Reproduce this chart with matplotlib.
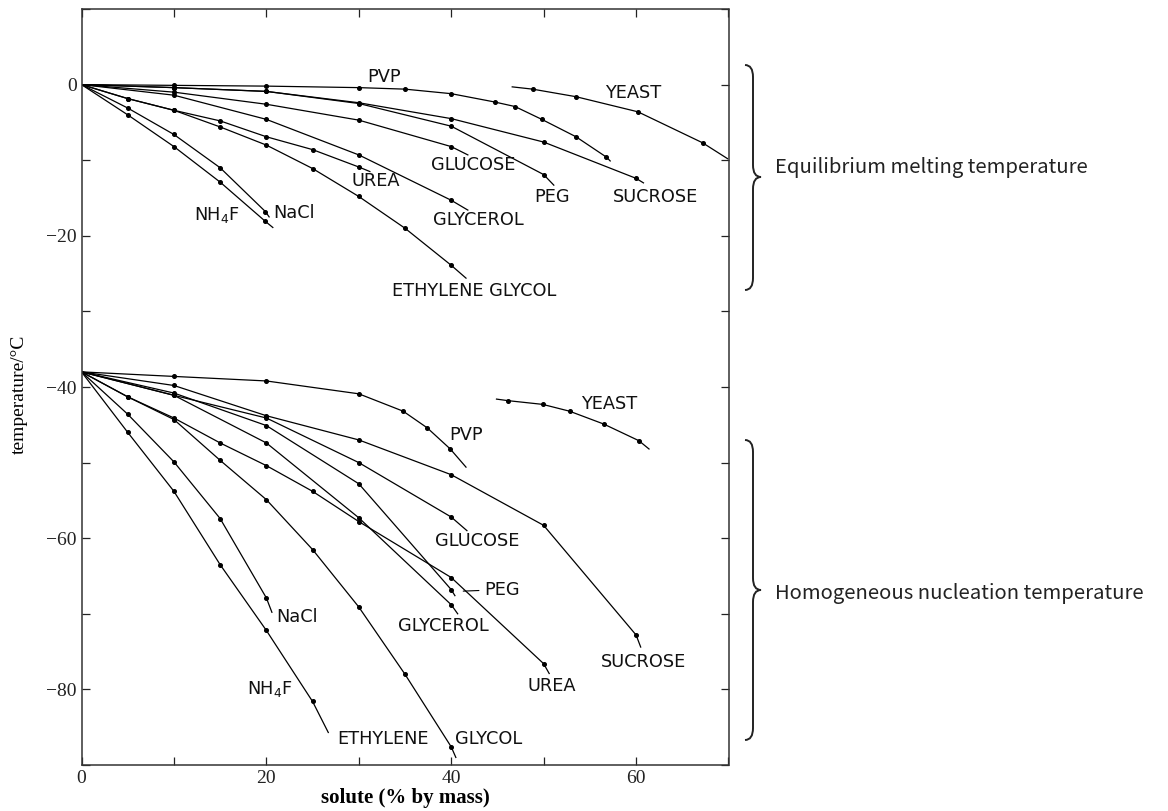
import matplotlib
matplotlib.use('agg')
import matplotlib.pyplot as plt
from matplotlib.path import Path
from matplotlib.patches import PathPatch
from matplotlib.ticker import MultipleLocator, FuncFormatter

# equilibrium melting temperature: (solute %, temperature degC)
melt_pvp = [(0, 0), (10, -0.1), (20, -0.2), (30, -0.4), (35, -0.6), (40, -1.2), (44.7, -2.3),
            (46.9, -2.9), (49.8, -4.6), (53.5, -6.9), (56.8, -9.6), (57.2, -10.1)]
melt_yeast = [(46.6, -0.3), (48.8, -0.6), (53.5, -1.6), (60.2, -3.6), (67.2, -7.7), (69.9, -9.8)]
melt_peg = [(0, 0), (10, -0.4), (20, -0.9), (30, -2.5), (40, -5.5), (50, -11.9), (51.1, -13.3)]
melt_sucrose = [(0, 0), (10, -0.4), (20, -0.9), (30, -2.4), (40, -4.5), (50, -7.6), (60, -12.4), (60.8, -13.0)]
melt_glucose = [(0, 0), (10, -1.0), (20, -2.6), (30, -4.7), (40, -8.2), (41.8, -9.3)]
melt_glycerol = [(0, 0), (10, -1.4), (20, -4.6), (30, -9.3), (40, -15.3), (41.8, -16.6)]
melt_urea = [(0, 0), (5, -1.85), (10, -3.4), (15, -4.8), (20, -6.9), (25, -8.6), (30, -10.9), (31.2, -11.5)]
melt_eg = [(0, 0), (5, -1.85), (10, -3.4), (15, -5.6), (20, -8.0), (25, -11.1), (30, -14.8),
           (35, -19.0), (40, -23.9), (41.6, -25.6)]
melt_nacl = [(0, 0), (5, -3.1), (10, -6.6), (15, -11.0), (19.9, -16.8), (20.3, -17.5)]
melt_nh4f = [(0, 0), (5, -4.0), (10, -8.2), (15, -12.9), (19.9, -18.1), (20.7, -18.9)]

# homogeneous nucleation temperature
nucl_pvp = [(0, -38), (10, -38.6), (20, -39.2), (30, -40.9), (34.8, -43.2), (37.4, -45.4),
            (39.9, -48.2), (41.6, -50.6)]
nucl_yeast = [(44.9, -41.6), (46.1, -41.8), (49.9, -42.3), (52.8, -43.2), (56.5, -44.9),
              (60.3, -47.1), (61.4, -48.2)]
nucl_sucrose = [(0, -38), (10, -39.8), (20, -43.8), (30, -47.0), (40, -51.6), (50, -58.3),
                (60, -72.8), (60.5, -74.4)]
nucl_glucose = [(0, -38), (10, -41.1), (20, -44.1), (30, -50.0), (40, -57.2), (41.7, -59.0)]
nucl_peg = [(0, -38), (10, -40.8), (20, -45.1), (30, -52.8), (40, -66.8), (40.4, -67.6)]
nucl_glycerol = [(0, -38), (10, -41.1), (20, -47.4), (30, -57.3), (40, -68.8), (40.7, -70.0)]
nucl_urea = [(0, -38), (5, -41.3), (10, -44.1), (15, -47.4), (20, -50.4), (25, -53.8), (30, -57.8),
             (40, -65.2), (50, -76.6), (50.6, -77.9)]
nucl_eg = [(0, -38), (5, -41.3), (10, -44.3), (15, -49.7), (20, -54.9), (25, -61.5), (30, -69.1),
           (35, -78.0), (40, -87.6), (40.5, -89.0)]
nucl_nacl = [(0, -38), (5, -43.6), (10, -49.9), (15, -57.4), (20, -67.9), (20.6, -69.8)]
nucl_nh4f = [(0, -38), (5, -46.0), (10, -53.8), (15, -63.5), (20, -72.2), (25, -81.6), (26.7, -85.7)]

curves = [melt_pvp, melt_yeast, melt_peg, melt_sucrose, melt_glucose, melt_glycerol, melt_urea,
          melt_eg, melt_nacl, melt_nh4f, nucl_pvp, nucl_yeast, nucl_sucrose, nucl_glucose, nucl_peg,
          nucl_glycerol, nucl_urea, nucl_eg, nucl_nacl, nucl_nh4f]

W, H = 1168, 811
fig = plt.figure(figsize=(W / 100, H / 100), dpi=100)
ax = fig.add_axes([81.5 / W, 1 - 765 / H, 647 / W, 756 / H])

for c in curves:
    xs = [p[0] for p in c]
    ys = [p[1] for p in c]
    ax.plot(xs, ys, color='black', lw=0.9)
    # точки только на промежуточных значениях (начало и конец кривой без точки)
    ax.plot(xs[1:-1], ys[1:-1], 'o', color='black', ms=2.6)

lab = dict(fontsize=12.8, family='DejaVu Sans', ha='center', va='center', color='#111111')
# подписи верхней группы
ax.text(32.7, 1.0, 'PVP', **lab)
ax.text(59.7, -1.1, 'YEAST', **lab)
ax.text(42.4, -10.6, 'GLUCOSE', **lab)
ax.text(50.9, -14.9, 'PEG', **lab)
ax.text(62.1, -14.9, 'SUCROSE', **lab)
ax.text(31.8, -12.8, 'UREA', **lab)
ax.text(42.9, -17.9, 'GLYCEROL', **lab)
ax.text(42.5, -27.3, 'ETHYLENE GLYCOL', **lab)
ax.text(14.6, -17.2, 'NH$_4$F', **lab)
ax.text(23.0, -17.0, 'NaCl', **lab)
# подписи нижней группы
ax.text(41.6, -46.3, 'PVP', **lab)
ax.text(57.1, -42.3, 'YEAST', **lab)
ax.text(42.8, -60.4, 'GLUCOSE', **lab)
ax.annotate('PEG', xy=(41.3, -67.0), xytext=(43.6, -66.8), ha='left', va='center',
            fontsize=12.8, family='DejaVu Sans', color='#111111',
            arrowprops=dict(arrowstyle='-', lw=0.8, color='black', shrinkA=2, shrinkB=0))
ax.text(39.2, -71.6, 'GLYCEROL', **lab)
ax.text(50.9, -79.5, 'UREA', **lab)
ax.text(60.8, -76.4, 'SUCROSE', **lab)
ax.text(23.3, -70.4, 'NaCl', **lab)
ax.text(20.4, -80.0, 'NH$_4$F', **lab)
ax.text(32.6, -86.5, 'ETHYLENE', **lab)
ax.text(44.1, -86.5, 'GLYCOL', **lab)

ax.set_xlim(0, 70)
ax.set_ylim(-90, 10)
ax.xaxis.set_major_locator(MultipleLocator(10))
ax.yaxis.set_major_locator(MultipleLocator(10))


def every_20(v, pos):
    n = int(round(v))
    if n % 20 != 0:
        return ''
    return str(n).replace('-', '\u2212')


ax.xaxis.set_major_formatter(FuncFormatter(every_20))
ax.yaxis.set_major_formatter(FuncFormatter(every_20))
ax.tick_params(direction='in', length=6, width=0.9, top=True, right=True, pad=3.5,
               labelsize=14, labelfontfamily='Liberation Serif', colors='#222222')
for s in ax.spines.values():
    s.set_linewidth(1.1)
    s.set_color('#333333')

ax.set_ylabel('temperature/\u00b0C', family='Liberation Serif', fontsize=14)
ax.yaxis.set_label_coords(-0.083, 0.49)
ax.set_xlabel('solute (% by mass)', family='Liberation Serif', fontsize=15, weight='bold')
ax.xaxis.set_label_coords(0.5, -0.031)


def brace(top, bottom, tip):
    # фигурная скобка в пикселях картинки (y сверху вниз)
    xl, xm, xt, r = 745, 753, 761, 12
    pts = [(xl, top), (xm, top), (xm, top + r), (xm, tip - r), (xm, tip), (xt, tip),
           (xm, tip), (xm, tip + r), (xm, bottom - r), (xm, bottom), (xl, bottom)]
    codes = [Path.MOVETO, Path.CURVE3, Path.CURVE3, Path.LINETO, Path.CURVE3, Path.CURVE3,
             Path.CURVE3, Path.CURVE3, Path.LINETO, Path.CURVE3, Path.CURVE3]
    verts = [(x / W, 1 - y / H) for x, y in pts]
    fig.patches.append(PathPatch(Path(verts, codes), transform=fig.transFigure,
                                 fill=False, lw=1.4, color='#222222'))


brace(65, 290, 177)
brace(440, 740, 590)
fig.text(775 / W, 1 - 168 / H, 'Equilibrium melting temperature', family='Noto Sans CJK JP',
         fontsize=14.6, va='center', ha='left', color='#222222')
fig.text(775 / W, 1 - 593 / H, 'Homogeneous nucleation temperature', family='Noto Sans CJK JP',
         fontsize=14.6, va='center', ha='left', color='#222222')

plt.savefig('out.png')
